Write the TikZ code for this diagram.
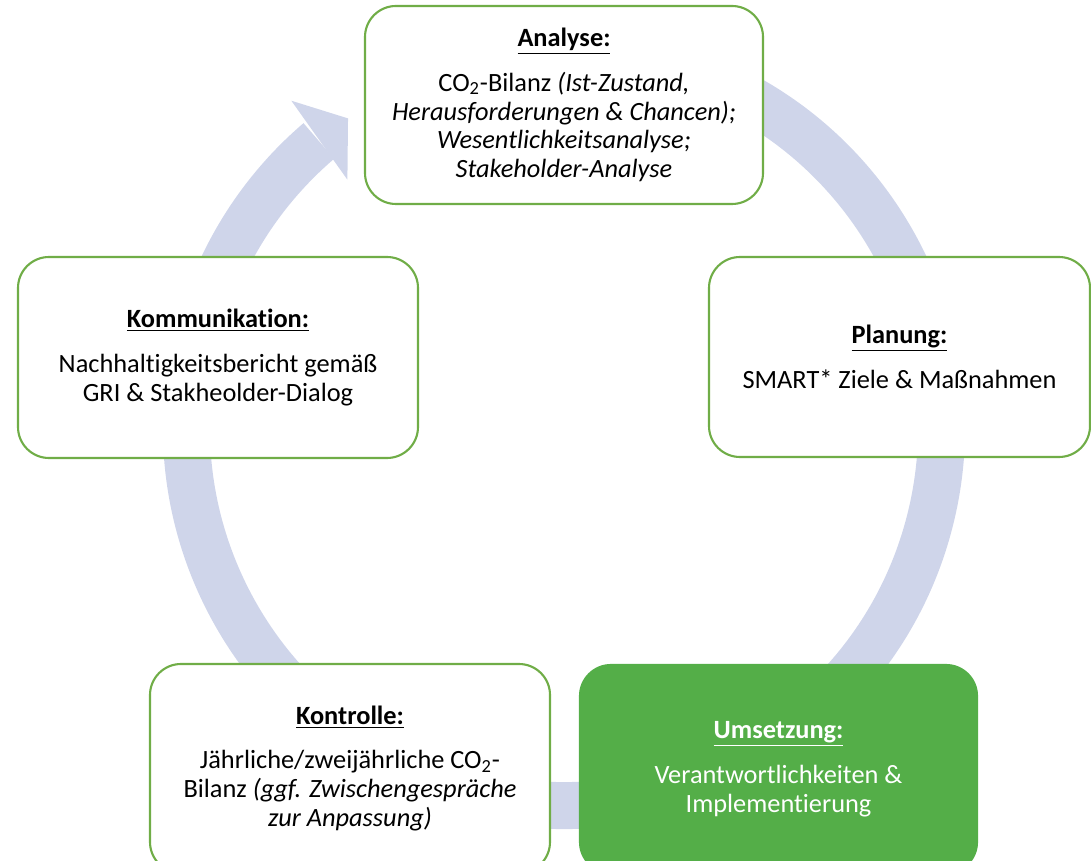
\documentclass[tikz,border=0pt]{standalone}
\usepackage{fontspec}
\setmainfont{Carlito}[Ligatures={NoCommon,NoContextual}, Contextuals=NoAlternate]
\definecolor{cyclegray}{HTML}{CFD5EA}
\definecolor{boxgreen}{HTML}{70AD47}
\definecolor{fillgreen}{HTML}{54AE48}
\newcommand{\phasetitle}[1]{\underline{\textbf{#1}}}

\begin{document}
\begin{tikzpicture}[
    phase/.style={draw=boxgreen, line width=1.2pt, rounded corners=0.62cm, fill=white,
      align=center, inner sep=0pt, font=\fontsize{15}{16.4}\selectfont},
    phasefill/.style={phase, draw=fillgreen, fill=fillgreen, text=white}]
  \useasboundingbox (0,0) rectangle (21.82,17.2);
  \coordinate (C) at (11.28,8.64);
  % Kreislauf im Hintergrund
  \begin{scope}[shift={(C)}]
    \draw[cyclegray, line width=0.94cm] (75:7.55) arc[start angle=75, end angle=-229.5, radius=7.55];
    \fill[cyclegray] (129.8:8.52) -- (124.9:7.55) -- (131.1:6.59) -- cycle;
  \end{scope}
  % Phasen
  \node[phase, minimum width=7.96cm, minimum height=3.96cm]
    (ANA) at (11.28, 15.1) {\phasetitle{Analyse:}\\[9pt]
      CO\textsubscript{2}-Bilanz \textit{(Ist-Zustand,}\\
      \textit{Herausforderungen \& Chancen);}\\
      \textit{Wesentlichkeitsanalyse;}\\
      \textit{Stakeholder-Analyse}};
  \node[phase, minimum width=7.62cm, minimum height=4.0cm]
    (PLA) at (17.99, 10.06) {\phasetitle{Planung:}\\[9pt]
      SMART* Ziele \& Maßnahmen};
  \node[phasefill, minimum width=7.94cm, minimum height=4.16cm]
    (UMS) at (15.57, 1.82) {\phasetitle{Umsetzung:}\\[9pt]
      Verantwortlichkeiten \&\\ Implementierung};
  \node[phase, minimum width=8.0cm, minimum height=4.18cm]
    (KON) at (7.0, 1.83) {\phasetitle{Kontrolle:}\\[9pt]
      Jährliche/zweijährliche CO\textsubscript{2}-\\
      Bilanz \textit{(ggf. Zwischengespräche}\\
      \textit{zur Anpassung)}};
  \node[phase, minimum width=8.0cm, minimum height=4.02cm]
    (KOM) at (4.36, 10.05) {\phasetitle{Kommunikation:}\\[9pt]
      Nachhaltigkeitsbericht gemäß\\ GRI \& Stakheolder-Dialog};
\end{tikzpicture}
\end{document}
